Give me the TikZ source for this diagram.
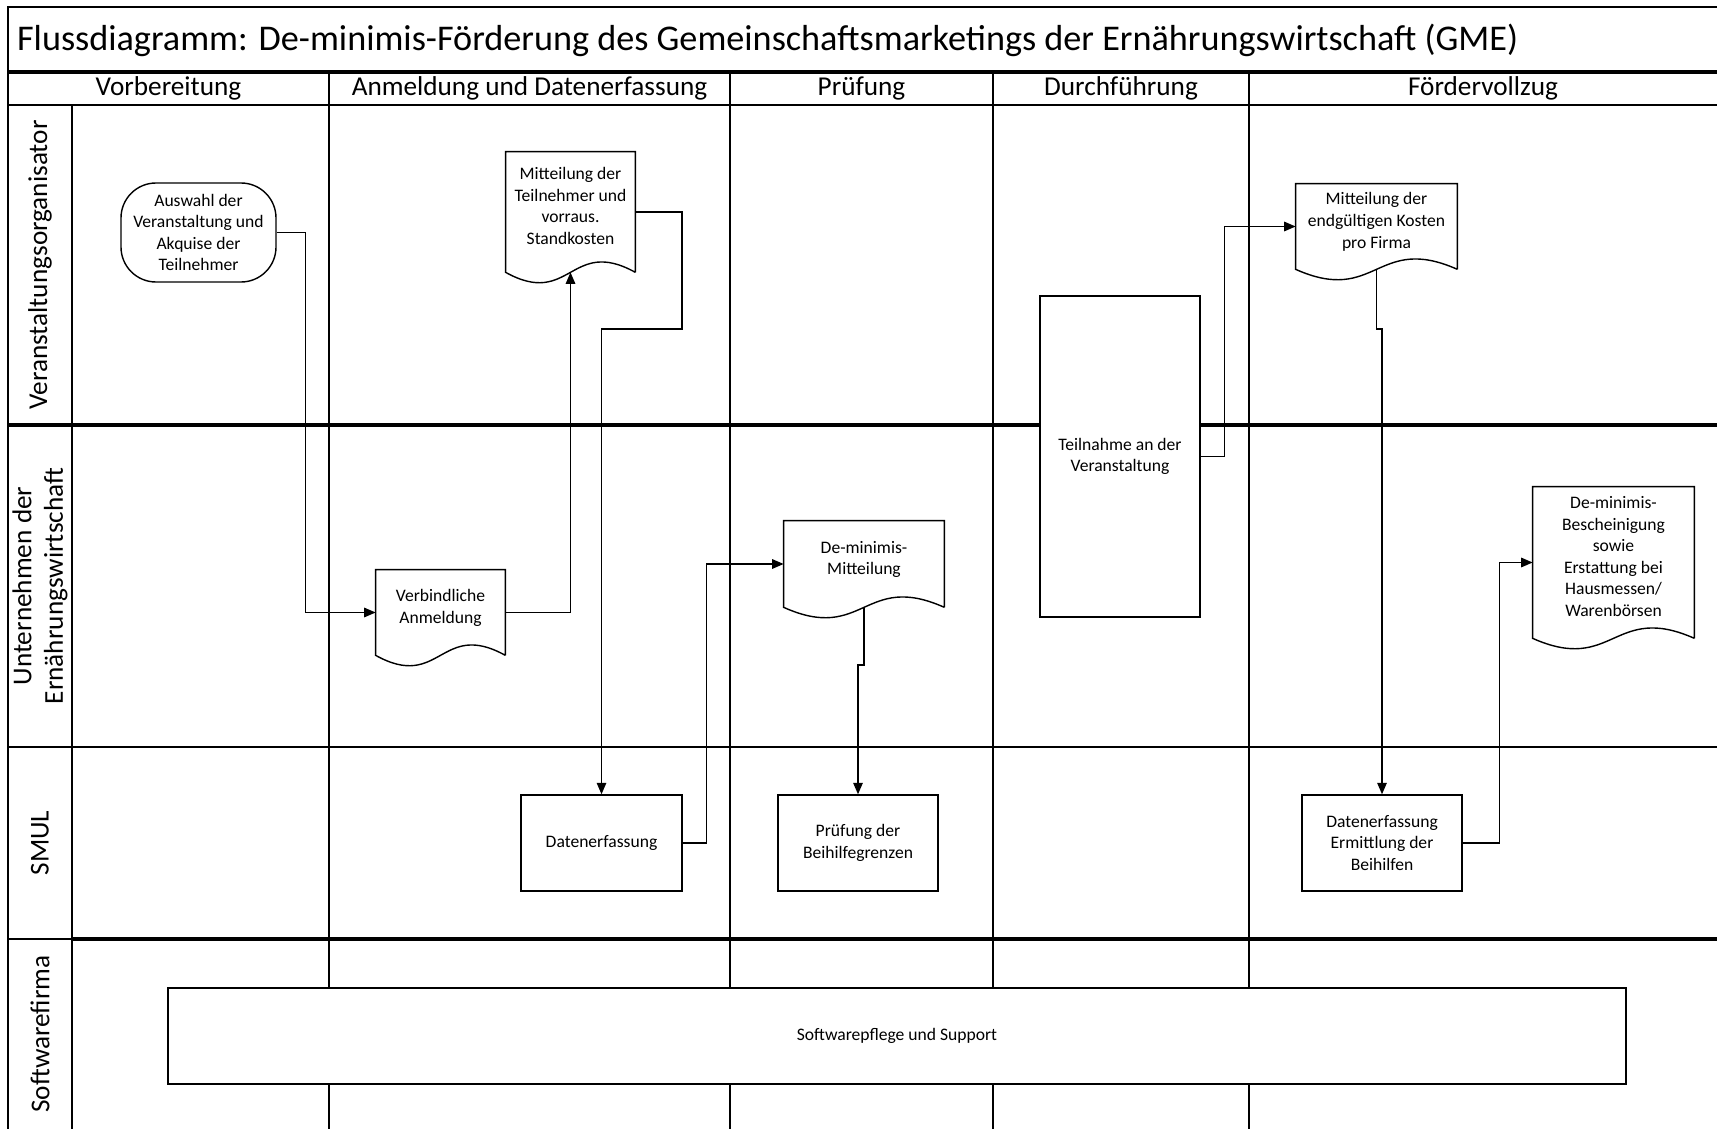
\documentclass[tikz,border=0pt]{standalone}
\usepackage{fontspec}
\setmainfont{Carlito}
\usetikzlibrary{positioning, calc, arrows.meta}

\newcommand{\docwave}[1]{%
  \draw[outline] (#1.south east) -- (#1.north east) -- (#1.north west) -- (#1.south west)
    .. controls ($(#1.south)+(0,36)$) and ($(#1.south)+(0,-36)$) .. (#1.south east)
    coordinate[pos=0.5] (#1-w);}

\begin{document}
\begin{tikzpicture}[x=0.2mm, y=-0.2mm,
  every node/.style={font=\fontsize{10}{12.3}\selectfont, inner sep=1pt},
  outline/.style={line width=0.8pt, line join=miter},
  proc/.style={draw, fill=white, line width=0.8pt, align=center},
  doc/.style={align=center, text depth=2.4mm},
  term/.style={draw, fill=white, line width=0.8pt, rounded corners=7mm, align=center},
  hdr/.style={font=\fontsize{15.5}{18}\selectfont},
  lane/.style={font=\fontsize{15.5}{18}\selectfont, rotate=90, align=center},
  grid/.style={line width=0.8pt},
  heavy/.style={line width=2pt},
  flow/.style={line width=0.8pt, -{Triangle[length=2.3mm,width=1.9mm]}}]
\useasboundingbox (0,0) rectangle (1717,1129);

\draw[grid] (8,1129) -- (8,7) -- (1717,7);
\draw[grid] (8,105) -- (1717,105);
\draw[grid] (72,105) -- (72,1129);
\foreach \x in {329,730,993,1249}
  \draw[grid] (\x,72) -- (\x,1129);
\draw[grid] (8,747) -- (1717,747);
\draw[grid] (8,939) -- (72,939);
\draw[heavy] (8,72) -- (1717,72);
\draw[heavy] (8,425) -- (1717,425);
\draw[heavy] (72,939) -- (1717,939);

\node[anchor=west, font=\fontsize{20.6}{25}\selectfont] (title) at (15,40) {Flussdiagramm: De-minimis-Förderung des Gemeinschaftsmarketings der Ernährungswirtschaft (GME)};

\node[hdr] (ph1) at (168.5,88.5) {Vorbereitung};
\node[hdr] (ph2) at (529.5,88.5) {Anmeldung und Datenerfassung};
\node[hdr] (ph3) at (861.5,88.5) {Prüfung};
\node[hdr] (ph4) at (1121,88.5) {Durchführung};
\node[hdr] (ph5) at (1483,88.5) {Fördervollzug};

\node[lane] (ln1) at (40,265) {Veranstaltungsorganisator};
\node[lane] (ln2) at (40,586) {Unternehmen der\\Ernährungswirtschaft};
\node[lane] (ln3) at (40,843) {SMUL};
\node[lane] (ln4) at (40,1034) {Softwarefirma};

\node[term, minimum width=31mm, minimum height=19.8mm] (ausw) at (198.5,232.5) {Auswahl der\\Veranstaltung und\\Akquise der\\Teilnehmer};
\node[doc, minimum width=25.8mm, minimum height=24mm] (mitt1) at (570.5,212) {Mitteilung der\\Teilnehmer und\\vorraus.\\Standkosten};
\node[doc, minimum width=25.8mm, minimum height=17mm] (verb) at (440.5,612.5) {Verbindliche\\Anmeldung};
\node[proc, minimum width=32.2mm, minimum height=19.2mm] (dat1) at (601.5,843) {Datenerfassung};
\node[doc, minimum width=32mm, minimum height=17.2mm] (demm) at (864,564) {De-minimis-\\Mitteilung};
\node[proc, minimum width=32mm, minimum height=19.2mm] (pruef) at (858,843) {Prüfung der\\Beihilfegrenzen};
\node[proc, minimum width=32mm, minimum height=64.2mm] (teil) at (1120,456.5) {Teilnahme an der\\Veranstaltung};
\node[doc, minimum width=32.2mm, minimum height=17mm] (mitt2) at (1376.5,226.5) {Mitteilung der\\endgültigen Kosten\\pro Firma};
\node[proc, minimum width=32mm, minimum height=19.2mm] (dat2) at (1382,843) {Datenerfassung\\Ermittlung der\\Beihilfen};
\node[doc, minimum width=32.2mm, minimum height=30.2mm] (besch) at (1613.5,562.5) {De-minimis-\\Bescheinigung\\sowie\\Erstattung bei\\Hausmessen/\\Warenbörsen};
\node[proc, minimum width=291.6mm, minimum height=19.2mm] (soft) at (897,1036) {Softwarepflege und Support};

\docwave{mitt1}
\docwave{verb}
\docwave{demm}
\docwave{mitt2}
\docwave{besch}

\coordinate (c1) at (682,329);
\coordinate (e1) at (858,665);
\coordinate (g1) at (1382,329);

\draw[flow] (ausw.east) -- ++(29,0) |- (verb.west);
\draw[flow] (verb.east) -| (mitt1-w);
\draw[flow] (mitt1.east) -| (c1) -| (dat1.north);
\draw[flow] (dat1.east) -- ++(24,0) |- (demm.west);
\draw[flow] (demm-w) |- (e1) -- (pruef.north);
\draw[flow] (teil.east) -- ++(24,0) |- (mitt2.west);
\draw[flow] (mitt2-w) |- (g1) -- (dat2.north);
\draw[flow] (dat2.east) -- ++(37,0) |- (besch.west);
\end{tikzpicture}
\end{document}
